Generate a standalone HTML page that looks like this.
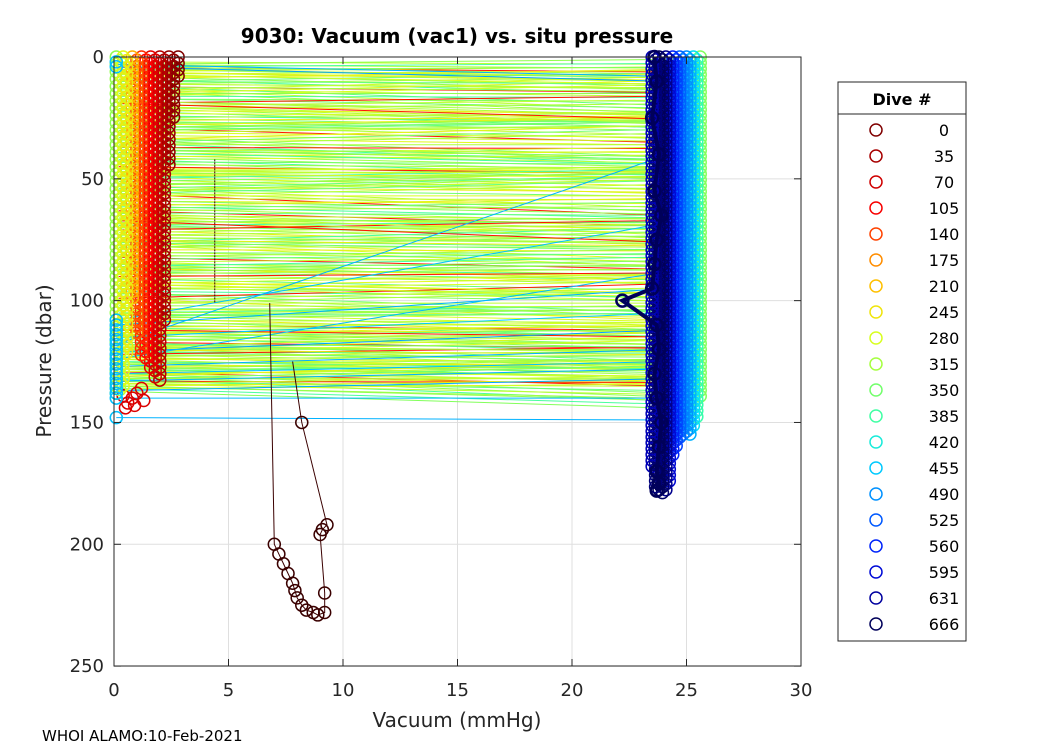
<!DOCTYPE html>
<html><head><meta charset="utf-8"><style>
body{margin:0;background:#fff;font-family:"Liberation Sans","DejaVu Sans",sans-serif}
svg text{font-family:"DejaVu Sans","Liberation Sans",sans-serif}
</style></head><body>
<svg id="c" width="1050" height="750" xmlns="http://www.w3.org/2000/svg">
<rect x="0" y="0" width="1050" height="750" fill="#fff"/>
<rect x="114" y="57" width="687" height="609" fill="#fff" stroke="none"/>
<g id="grid"></g>
<g id="marks"></g>
<g id="axes"></g>
<text x="457" y="43" text-anchor="middle" font-size="20" font-weight="bold">9030: Vacuum (vac1) vs. situ pressure</text>
<text x="457" y="727" text-anchor="middle" font-size="20" fill="#262626">Vacuum (mmHg)</text>
<text transform="translate(51,361) rotate(-90)" text-anchor="middle" font-size="20" fill="#262626">Pressure (dbar)</text>
<text x="42" y="741" font-size="15">WHOI ALAMO:10-Feb-2021</text>
<g id="legend"></g>
</svg>
<script>
const xTicks=[0,5,10,15,20,25,30];
const yTicks=[0,50,100,150,200,250];
const legendDives=[0,35,70,105,140,175,210,245,280,315,350,385,420,455,490,525,560,595,631,666];
const lineP1=[2,4,6,7,9,11,12,14,15,17,19,20,22,24,25,27,29,31,33,34,36,38,40,41,43,45,47,48,50,52,54,55,57,59,61,62,64,66,68,69,71,73,75,76,78,80,82,84,85,87,89,91,93,95,97,99,101,103,105,106,108,110,111,113,114,116,117,119,120,121,122,123,124,125,126,127,128,129,130,131,132,133,134,135,118,112,104,92,86,74,65,53,46,37,28,18,10,5,3];
const lineDP=[1,3,-2,5,-4,2,8,-6,0,4,-3,6];
const lineDive=[300,320,280,340,260,310,360,290,330,350,120,300,270,380,315];
const blueLineP1=[3,4,108,110,115,118,121,124,127,130,133,137,140,148];
const blueLineP2=[8,10,68,95,105,40,112,88,120,125,128,132,140,149];
const blueLineDive=[470,480,460,470,455,470,480,465,470,460,470,475,465,470];
const leftVac=[0.1,0.25,0.4,0.55];
const leftMaxP=[140,138,135,122];
const leftDive=[330,300,270,250];
const redVac=[2.8,2.6,2.4,2.2,2.0,1.8,1.6,1.4,1.2,1.0,0.8];
const redMaxP=[8,25,45,110,135,132,128,126,124,115,100];
const redDive=[0,10,20,35,50,70,90,110,130,150,200];
const redLowP=[136,138,140,142,143,144,141,139];
const redLowVac=[1.2,1.0,0.8,0.6,0.9,0.5,1.3,0.4];
const blueLeftP=[108,110,112,114,116,118,120,122,124,126,128,130,132,134,136,138,140,148,4,2];
const rightVac=[25.6,25.45,25.3,25.15,25.0,24.85,24.7,24.55,24.4,24.25,24.1,23.95,23.8,23.65,23.5];
const rightMaxP=[140,148,152,155,155,156,158,160,165,175,178,180,180,178,170];
const rightDive=[340,390,440,470,490,500,520,540,560,600,640,660,666,650,620];
const navyVac=[23.6,23.7,23.5,23.8,23.6,23.9,23.7,23.6,23.5,22.2,23.7,23.8,23.6,23.7,23.9,23.8,23.7,23.8,23.7];
const navyP=[0,10,25,40,55,65,75,85,95,100,110,120,130,140,150,160,170,175,178];
const d0Vac=[6.8,7.0,7.2,7.4,7.6,7.8,7.9,8.0,8.2,8.4,8.7,8.9,9.2,9.2,9.0,9.1,9.3,8.2,7.8];
const d0P=[101,200,204,208,212,216,219,222,225,227,228,229,228,220,196,194,192,150,125];
const d1Vac=[4.4,4.4,4.4];
const d1P=[42,72,101];

const X=v=>114+v*22.9, Y=p=>57+p*2.4364;
const NS="http://www.w3.org/2000/svg";
function col(d){const c=[[128,0,0],[190,0,0],[255,0,0],[255,128,0],[255,210,0],[220,255,30],[140,255,80],[60,255,170],[0,220,255],[0,130,255],[0,40,255],[0,0,200],[0,0,90]];
 const t=d/666*(c.length-1);const i=Math.min(c.length-2,Math.floor(t));const f=t-i;return `rgb(${c[i].map((v,k)=>Math.round(v+(c[i+1][k]-v)*f)).join(',')})`;}
function el(tag,a,parent){const e=document.createElementNS(NS,tag);for(const k in a)e.setAttribute(k,a[k]);parent.appendChild(e);return e;}
const grid=document.getElementById('grid'),marks=document.getElementById('marks'),axes=document.getElementById('axes'),leg=document.getElementById('legend');
xTicks.forEach(t=>{const l=el('line',{x1:X(t),x2:X(t),y1:57,y2:666,stroke:'#dfdfdf'},grid);

});
yTicks.forEach(t=>{const l=el('line',{x1:114,x2:801,y1:Y(t),y2:Y(t),stroke:'#dfdfdf'},grid);

});
function circ(v,p,d,sw){const c=el('circle',{cx:X(v),cy:Y(p),r:6,fill:'none',stroke:col(d),'stroke-width':sw||1.5},marks);

}
// lines
lineP1.forEach((p,i)=>{const q=p+lineDP[i%lineDP.length];
 for(let k=0;k<3;k++){
 const l=el('line',{x1:X(0.2),y1:Y(p+k*1.1),x2:X(24.5),y2:Y(q+k*1.6),stroke:col(lineDive[(i+k*5)%lineDive.length]),'stroke-width':1},marks);
 
 }});
blueLineP1.forEach((p,i)=>{const l=el('line',{x1:X(0.1),y1:Y(p),x2:X(24.2),y2:Y(blueLineP2[i]),stroke:col(blueLineDive[i]),'stroke-width':1},marks);

});
// left red block (on top of lines)
redVac.forEach((v,j)=>{for(let p=(j%2)*1.3;p<=redMaxP[j];p+=2.6)circ(v,p,redDive[j]);});
redLowP.forEach((p,i)=>circ(redLowVac[i],p,80));
// left green block
leftVac.forEach((v,j)=>{for(let p=(j%2)*1.5;p<=leftMaxP[j];p+=3)circ(v,p,leftDive[j]);});
blueLeftP.forEach(p=>circ(0.1,p,460));
// right blocks
rightVac.forEach((v,j)=>{for(let p=(j%2)*1.2;p<=rightMaxP[j];p+=2.4)circ(v,p,rightDive[j]);});
// navy dive
let pts=navyVac.map((v,i)=>X(v)+','+Y(navyP[i])).join(' ');
let pl=el('polyline',{points:pts,fill:'none',stroke:col(666),'stroke-width':4},marks);


navyVac.forEach((v,i)=>circ(v,navyP[i],666,2.5));
// dive 0 profile
pts=d0Vac.map((v,i)=>X(v)+','+Y(d0P[i])).join(' ');
pl=el('polyline',{points:pts,fill:'none',stroke:'#3a0000','stroke-width':1},marks);


d0Vac.forEach((v,i)=>{if(d0P[i]>140){const c=el('circle',{cx:X(v),cy:Y(d0P[i]),r:6,fill:'none',stroke:'#3a0000','stroke-width':1.5},marks);

}});
pts=d1Vac.map((v,i)=>X(v)+','+Y(d1P[i])).join(' ');
pl=el('polyline',{points:pts,fill:'none',stroke:'#3a0000','stroke-width':1,'stroke-dasharray':'2,1'},marks);


// axes
el('rect',{x:114,y:57,width:687,height:609,fill:'none',stroke:'#262626','stroke-width':1},axes);
xTicks.forEach(t=>{el('line',{x1:X(t),x2:X(t),y1:666,y2:659,stroke:'#262626'},axes);el('line',{x1:X(t),x2:X(t),y1:57,y2:64,stroke:'#262626'},axes);
 const tx=el('text',{x:X(t),y:696,'text-anchor':'middle','font-size':18,fill:'#262626'},axes);tx.textContent=t;
 
 });
yTicks.forEach(t=>{el('line',{x1:114,x2:121,y1:Y(t),y2:Y(t),stroke:'#262626'},axes);el('line',{x1:801,x2:794,y1:Y(t),y2:Y(t),stroke:'#262626'},axes);
 const tx=el('text',{x:104,y:Y(t)+6,'text-anchor':'end','font-size':18,fill:'#262626'},axes);tx.textContent=t;
 
 });
// legend
el('rect',{x:838,y:82,width:128,height:559,fill:'#fff',stroke:'#262626'},leg);
el('line',{x1:838,x2:966,y1:114,y2:114,stroke:'#262626'},leg);
let tt=el('text',{x:902,y:105,'text-anchor':'middle','font-size':16,'font-weight':'bold'},leg);tt.textContent='Dive #';


legendDives.forEach((d,i)=>{const y=130+i*26;
 const c=el('circle',{cx:876,cy:y,r:6,fill:'none',stroke:col(d),'stroke-width':1.5},leg);
 
 
 const t=el('text',{x:944,y:y+6,'text-anchor':'middle','font-size':16},leg);t.textContent=d;
 
 });
</script>
</body></html>
